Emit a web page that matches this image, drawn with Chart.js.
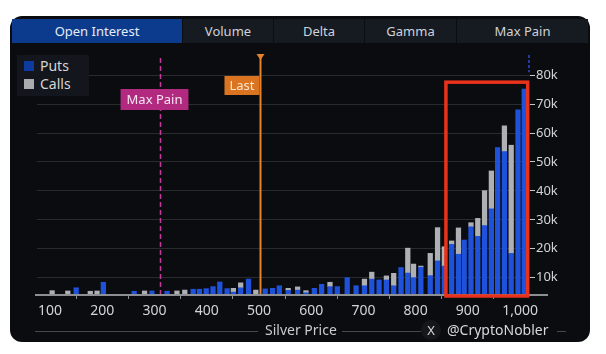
<!DOCTYPE html>
<html><head><meta charset="utf-8">
<script src="https://cdn.jsdelivr.net/npm/chart.js@4.4.1/dist/chart.umd.min.js"></script>
<style>
html,body{margin:0;padding:0;background:#fff;width:606px;height:354px;overflow:hidden;font-family:"Noto Sans",sans-serif;}
#panel{position:absolute;left:10px;top:16px;width:580px;height:326px;background:#0a0c10;border-radius:12px;}
#tabs{position:absolute;left:12px;top:19px;width:576px;height:24px;background:#161a21;display:flex;}
.tab{height:24px;line-height:24px;text-align:center;color:#cfd3da;font-size:13px;border-right:1px solid #0b0d11;box-sizing:border-box;}
.tab.active{background:#0c3a8c;color:#e6ecf5;}
#c{position:absolute;left:0;top:0;z-index:1;}
#legend{position:absolute;left:17px;top:55px;width:72px;height:41px;background:#13161c;z-index:2;}
.li{position:absolute;left:7px;height:18px;line-height:18px;color:#d6d6d6;font-size:14px;padding-left:16px;}
.sw{position:absolute;left:0;top:4px;width:10px;height:10px;}
.ln{position:absolute;height:1px;background:#45484d;z-index:2;}
.txt{position:absolute;color:#c9cbcf;font-size:14px;line-height:18px;white-space:nowrap;z-index:2;}
#xc{position:absolute;left:421px;top:320px;width:20px;height:20px;border-radius:10px;background:#15171b;color:#d8d8d8;font-size:13px;line-height:20px;text-align:center;z-index:2;}
</style></head>
<body>
<div id="panel"></div>
<div id="tabs">
  <div class="tab active" style="width:171px">Open Interest</div>
  <div class="tab" style="width:91px">Volume</div>
  <div class="tab" style="width:91px">Delta</div>
  <div class="tab" style="width:92px">Gamma</div>
  <div class="tab" style="width:131px;border-right:none">Max Pain</div>
</div>
<canvas id="c" width="606" height="354"></canvas>
<div id="legend">
  <div class="li" style="top:2px"><span class="sw" style="background:#0e3b9f"></span>Puts</div>
  <div class="li" style="top:20px"><span class="sw" style="background:#a9abae"></span>Calls</div>
</div>
<div class="ln" style="left:35px;top:331px;width:223px"></div>
<div class="txt" style="left:265px;top:321px">Silver Price</div>
<div class="ln" style="left:342px;top:331px;width:79px"></div>
<div id="xc">X</div>
<div class="txt" style="left:447px;top:321px;color:#d8d8d8">@CryptoNobler</div>
<div class="ln" style="left:557px;top:331px;width:9px"></div>
<script>
const strikes = [104,134,150,177,190,202,261,281,295,324,343,358,374,386,399,412,425,439,451,465,480,494,512,526,539,556,574,590,606,620,636,650,669,686,702,716,730,744,758,772,785,796,810,828,842,855,869,882,893,906,919,932,945,957,970,983,996,1008];
const puts = [null,null,6500,null,null,8400,5300,null,5400,5300,null,null,6000,6000,6200,6900,8500,6200,5000,6500,9500,null,6100,6300,7200,5600,5700,4800,6300,7700,6900,6900,10000,7200,7200,9500,9200,9200,7200,13500,11600,10000,13600,10700,15800,14000,21500,18100,23000,27600,24300,28000,33800,55000,53600,18400,68000,75200];
const calls = [5500,5400,null,5300,5400,null,null,5400,null,null,5400,5700,null,null,null,null,null,null,1300,1700,null,5700,null,null,null,700,1100,700,null,null,1500,null,null,null,2300,2400,null,1400,4300,null,8600,4700,400,7700,11500,6700,1200,9100,null,1400,6200,12100,13100,null,8900,37400,null,null];
const xTicks = [100,200,300,400,500,600,700,800,900,1000];
const yTicks = [10000,20000,30000,40000,50000,60000,70000,80000];
const maxPain = 311;
const lastPrice = 502;
const highlight = {from: 858, to: 1014.5, top: 77600};

const overlay = {
  id: 'overlay',
  afterDatasetsDraw(chart) {
    const {ctx, chartArea: a, scales: {x, y}} = chart;
    ctx.save();
    ctx.strokeStyle = '#8d8f93'; ctx.lineWidth = 2;
    ctx.beginPath(); ctx.moveTo(a.left - 2, a.bottom); ctx.lineTo(a.right + 18, a.bottom); ctx.stroke();
    ctx.strokeStyle = '#2b4bd0'; ctx.lineWidth = 1.5; ctx.setLineDash([3, 2]);
    ctx.beginPath(); ctx.moveTo(a.right - 1, a.top); ctx.lineTo(a.right - 1, y.getPixelForValue(81000)); ctx.stroke();
    const mx = Math.round(x.getPixelForValue(maxPain)) + 0.5;
    ctx.strokeStyle = '#c2399c'; ctx.lineWidth = 1.5; ctx.setLineDash([5, 3]);
    ctx.beginPath(); ctx.moveTo(mx, a.top + 3); ctx.lineTo(mx, a.bottom - 1); ctx.stroke();
    ctx.setLineDash([]);
    ctx.font = '13px "Noto Sans"';
    ctx.textBaseline = 'middle'; ctx.textAlign = 'center';
    let tw = ctx.measureText('Max Pain').width + 12;
    ctx.fillStyle = '#b12a80';
    ctx.fillRect(mx - 6 - tw / 2, a.top + 34, tw, 21);
    ctx.fillStyle = '#f5e6f0';
    ctx.fillText('Max Pain', mx - 6, a.top + 45);
    const lx = Math.round(x.getPixelForValue(lastPrice)) + 0.5;
    ctx.strokeStyle = '#e5822a'; ctx.lineWidth = 2;
    ctx.beginPath(); ctx.moveTo(lx, a.top); ctx.lineTo(lx, a.bottom - 1); ctx.stroke();
    ctx.fillStyle = '#e5822a';
    ctx.beginPath(); ctx.moveTo(lx - 4, a.top - 1); ctx.lineTo(lx + 4, a.top - 1); ctx.lineTo(lx, a.top + 5); ctx.closePath(); ctx.fill();
    tw = ctx.measureText('Last').width + 10;
    ctx.fillStyle = '#db7420';
    ctx.fillRect(lx - tw - 1, a.top + 21, tw, 19);
    ctx.fillStyle = '#fbe6cf';
    ctx.fillText('Last', lx - 1 - tw / 2, a.top + 31);
    const x1 = x.getPixelForValue(highlight.from), x2 = x.getPixelForValue(highlight.to);
    const y1 = y.getPixelForValue(highlight.top);
    ctx.strokeStyle = '#e8321c'; ctx.lineWidth = 3.5;
    ctx.strokeRect(x1, y1, x2 - x1, a.bottom + 1 - y1);
    ctx.restore();
  }
};

new Chart(document.getElementById('c'), {
  type: 'bar',
  data: {
    datasets: [
      {label: 'Puts', data: strikes.map((s, i) => ({x: s, y: puts[i]})), backgroundColor: '#1f52da', barThickness: 4.6},
      {label: 'Calls', data: strikes.map((s, i) => ({x: s, y: calls[i]})), backgroundColor: '#aeb0b3', barThickness: 4.6}
    ]
  },
  options: {
    responsive: false, animation: false,
    layout: {padding: {left: 37, top: 55, right: 0, bottom: 0}},
    plugins: {legend: {display: false}, tooltip: {enabled: false}},
    scales: {
      x: {
        type: 'linear', stacked: true, offset: false, min: 75, max: 1019,
        afterBuildTicks: s => { s.ticks = xTicks.map(v => ({value: v})); },
        afterFit: s => { s.height = 59; },
        grid: {drawOnChartArea: false, drawTicks: true, tickLength: 4, tickColor: '#8d8f93'},
        border: {display: false},
        ticks: {color: '#d2d4d8', font: {family: 'Noto Sans', size: 14}, padding: 4, maxRotation: 0,
          callback: v => v.toLocaleString('en-US')}
      },
      y: {
        position: 'right', stacked: true, min: 4000, max: 87000,
        afterBuildTicks: s => { s.ticks = yTicks.map(v => ({value: v})); },
        afterFit: s => { s.width = 76; },
        grid: {color: 'rgba(255,255,255,0.13)', drawTicks: true, tickLength: 5, tickColor: '#c8c8c8'},
        border: {display: false},
        ticks: {color: '#d2d4d8', font: {family: 'Noto Sans', size: 13}, padding: 1,
          callback: v => (v / 1000) + 'k'}
      }
    }
  },
  plugins: [overlay]
});
</script>
</body></html>
